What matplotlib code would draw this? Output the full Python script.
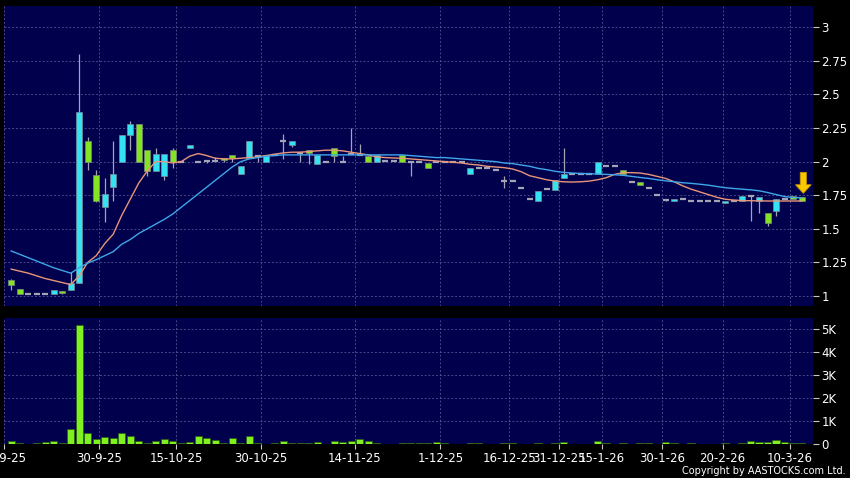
import matplotlib
matplotlib.use('Agg')
import matplotlib.pyplot as plt
import numpy as np

# daily candles, index 0 = first bar on the chart
opens = [1.12, 1.05, 1.015, 1.015, 1.015, 1.017, 1.04, 1.045, 1.10, 2.15,
         1.90, 1.66, 1.81, 2.00, 2.20, 2.28, 2.09, 1.93, 1.89, 2.09,
         2.00, 2.10, 2.00, 2.005, 2.005, 2.03, 2.05, 1.91, 2.03, 2.04,
         2.00, 2.05, 2.15, 2.12, 2.065, 2.085, 1.98, 2.00, 2.10, 2.00,
         2.06, 2.05, 2.04, 2.00, 2.005, 2.005, 2.05, 2.00, 2.00, 1.99,
         2.00, 2.00, 2.00, 1.995, 1.91, 1.95, 1.95, 1.94, 1.855, 1.855,
         1.80, 1.72, 1.71, 1.795, 1.79, 1.88, 1.91, 1.91, 1.91, 1.91,
         1.965, 1.965, 1.94, 1.85, 1.845, 1.80, 1.75, 1.715, 1.705, 1.72,
         1.707, 1.707, 1.707, 1.707, 1.69, 1.707, 1.707, 1.746, 1.707, 1.62,
         1.63, 1.72, 1.746, 1.74]
highs = [1.125, 1.05, 1.015, 1.015, 1.015, 1.042, 1.04, 1.18, 2.80, 2.18,
         1.94, 1.88, 2.15, 2.20, 2.30, 2.28, 2.09, 2.10, 2.06, 2.10,
         2.00, 2.12, 2.00, 2.005, 2.035, 2.03, 2.05, 1.97, 2.15, 2.05,
         2.05, 2.05, 2.205, 2.15, 2.065, 2.085, 2.05, 2.00, 2.10, 2.04,
         2.25, 2.13, 2.04, 2.05, 2.005, 2.005, 2.05, 2.00, 2.00, 1.99,
         2.00, 2.00, 2.00, 1.995, 1.95, 1.95, 1.95, 1.94, 1.89, 1.855,
         1.80, 1.72, 1.78, 1.795, 1.86, 2.10, 1.91, 1.91, 1.91, 2.00,
         1.965, 1.965, 1.94, 1.85, 1.845, 1.80, 1.75, 1.715, 1.72, 1.72,
         1.707, 1.707, 1.707, 1.707, 1.707, 1.707, 1.746, 1.746, 1.74, 1.62,
         1.72, 1.72, 1.746, 1.74]
lows = [1.045, 1.013, 1.015, 1.015, 1.015, 1.017, 1.015, 1.045, 1.10, 1.94,
        1.70, 1.55, 1.71, 2.00, 2.09, 2.00, 1.89, 1.93, 1.86, 1.95,
        2.00, 2.10, 2.00, 1.99, 2.005, 2.00, 1.995, 1.91, 2.03, 2.00,
        2.00, 2.05, 2.02, 2.11, 2.00, 1.98, 1.98, 2.00, 2.00, 2.00,
        2.06, 2.05, 2.00, 2.00, 2.005, 2.005, 2.00, 1.89, 2.00, 1.95,
        2.00, 2.00, 2.00, 1.995, 1.91, 1.95, 1.95, 1.94, 1.80, 1.855,
        1.80, 1.72, 1.71, 1.795, 1.79, 1.88, 1.91, 1.91, 1.91, 1.91,
        1.965, 1.965, 1.905, 1.85, 1.825, 1.80, 1.75, 1.705, 1.705, 1.72,
        1.707, 1.707, 1.707, 1.707, 1.69, 1.707, 1.707, 1.56, 1.615, 1.523,
        1.595, 1.72, 1.72, 1.707]
closes = [1.08, 1.015, 1.015, 1.015, 1.015, 1.042, 1.02, 1.10, 2.37, 2.00,
          1.71, 1.76, 1.91, 2.20, 2.28, 2.00, 1.93, 2.06, 2.06, 2.00,
          2.00, 2.12, 2.00, 2.005, 2.005, 2.01, 2.03, 1.97, 2.15, 2.04,
          2.05, 2.05, 2.15, 2.15, 2.065, 2.065, 2.05, 2.00, 2.04, 2.00,
          2.06, 2.05, 2.00, 2.05, 2.005, 2.005, 2.00, 2.00, 2.00, 1.95,
          2.00, 2.00, 2.00, 1.995, 1.95, 1.95, 1.95, 1.94, 1.855, 1.855,
          1.80, 1.72, 1.78, 1.795, 1.86, 1.91, 1.91, 1.91, 1.91, 2.00,
          1.965, 1.965, 1.905, 1.85, 1.825, 1.80, 1.75, 1.715, 1.72, 1.72,
          1.707, 1.707, 1.707, 1.707, 1.707, 1.707, 1.746, 1.746, 1.74, 1.54,
          1.72, 1.72, 1.72, 1.707]

# volume in thousands of shares
volume_k = [0.15, 0.05, 0.02, 0.03, 0.10, 0.14, 0.06, 0.65, 5.18, 0.50,
            0.21, 0.30, 0.27, 0.47, 0.37, 0.15, 0.04, 0.14, 0.21, 0.15,
            0.06, 0.09, 0.36, 0.27, 0.18, 0.05, 0.27, 0.03, 0.36, 0.06,
            0.02, 0.04, 0.14, 0.06, 0.06, 0.03, 0.09, 0.02, 0.12, 0.09,
            0.12, 0.24, 0.12, 0.04, 0.02, 0.02, 0.06, 0.06, 0.05, 0.06,
            0.10, 0.04, 0.02, 0.02, 0.06, 0.03, 0.02, 0.02, 0.06, 0.03,
            0.02, 0.02, 0.03, 0.02, 0.03, 0.08, 0.02, 0.02, 0.02, 0.12,
            0.03, 0.02, 0.03, 0.02, 0.03, 0.05, 0.02, 0.08, 0.03, 0.02,
            0.05, 0.02, 0.02, 0.02, 0.03, 0.02, 0.03, 0.15, 0.07, 0.07,
            0.17, 0.07, 0.03, 0.05]

# moving averages
ma_short = [1.20, 1.185, 1.17, 1.15, 1.13, 1.115, 1.10, 1.085, 1.15, 1.25,
            1.30, 1.39, 1.46, 1.60, 1.72, 1.84, 1.93, 2.00, 2.00, 1.99,
            2.00, 2.04, 2.06, 2.045, 2.025, 2.02, 2.02, 2.025, 2.03, 2.035,
            2.045, 2.055, 2.065, 2.07, 2.07, 2.075, 2.08, 2.085, 2.085, 2.08,
            2.07, 2.06, 2.05, 2.035, 2.03, 2.027, 2.025, 2.02, 2.015, 2.01,
            2.005, 2.00, 1.995, 1.99, 1.98, 1.975, 1.965, 1.96, 1.955, 1.945,
            1.925, 1.895, 1.88, 1.865, 1.855, 1.85, 1.848, 1.85, 1.855, 1.865,
            1.88, 1.905, 1.918, 1.918, 1.915, 1.905, 1.89, 1.875, 1.85, 1.82,
            1.795, 1.775, 1.755, 1.735, 1.72, 1.714, 1.71, 1.709, 1.708, 1.707,
            1.707, 1.707, 1.707, 1.707]
ma_long = [1.335, 1.31, 1.285, 1.26, 1.235, 1.21, 1.19, 1.17, 1.21, 1.245,
           1.27, 1.30, 1.33, 1.385, 1.42, 1.465, 1.50, 1.535, 1.57, 1.61,
           1.66, 1.71, 1.76, 1.81, 1.86, 1.91, 1.96, 2.00, 2.02, 2.03,
           2.04, 2.045, 2.05, 2.05, 2.05, 2.05, 2.05, 2.05, 2.05, 2.05,
           2.05, 2.05, 2.05, 2.05, 2.05, 2.05, 2.05, 2.045, 2.04, 2.035,
           2.03, 2.03, 2.025, 2.02, 2.015, 2.01, 2.005, 2.00, 1.99, 1.985,
           1.975, 1.965, 1.95, 1.94, 1.928, 1.92, 1.915, 1.912, 1.91, 1.908,
           1.905, 1.902, 1.898, 1.89, 1.882, 1.875, 1.865, 1.857, 1.85, 1.843,
           1.838, 1.832, 1.825, 1.815, 1.806, 1.80, 1.795, 1.79, 1.783, 1.77,
           1.755, 1.74, 1.733, 1.73]

date_pos = [-0.85, 10.3, 19.4, 29.4, 40.4, 50.5, 58.6, 64.5, 69.5, 76.6, 83.7, 91.6]
date_labels = ['15-9-25', '30-9-25', '15-10-25', '30-10-25', '14-11-25', '1-12-25',
               '16-12-25', '31-12-25', '15-1-26', '30-1-26', '20-2-26', '10-3-26']
price_ticks = [1, 1.25, 1.5, 1.75, 2, 2.25, 2.5, 2.75, 3]
vol_ticks = [0, 1, 2, 3, 4, 5]

bg = '#00004c'
up_col = '#33e3f2'
down_col = '#84e424'
flat_col = '#a4a4b4'
grid_kw = dict(color='#5c5c98', linestyle=(0, (2.5, 2.5)), linewidth=0.55)

fig = plt.figure(figsize=(8.5, 4.78), dpi=100, facecolor='black')
ax = fig.add_axes([4/850, 172/478, 809/850, 300/478], facecolor=bg)
axv = fig.add_axes([4/850, 34/478, 809/850, 126/478], facecolor=bg)

x = np.arange(len(closes))
o = np.array(opens); h = np.array(highs); l = np.array(lows); c = np.array(closes)

# wicks
ax.vlines(x, l, h, color=flat_col, linewidth=0.9, zorder=2)
# bodies
for i in x:
    if c[i] > o[i]:
        ax.bar(i, c[i] - o[i], bottom=o[i], width=0.7, color=up_col,
               edgecolor='#7a8a9a', linewidth=0.5, zorder=3)
    elif c[i] < o[i]:
        ax.bar(i, o[i] - c[i], bottom=c[i], width=0.7, color=down_col,
               edgecolor='#7a8a7a', linewidth=0.5, zorder=3)
    else:
        ax.hlines(c[i], i - 0.35, i + 0.35, color=flat_col, linewidth=1.6, zorder=3)

ax.plot(x, ma_short, color='#e8967a', linewidth=1.0, zorder=4)
ax.plot(x, ma_long, color='#3fa6ea', linewidth=1.0, zorder=4)

# yellow marker on the latest bar
ax.arrow(93.2, 1.92, 0, -0.156, width=0.72, head_width=1.85, head_length=0.064,
         length_includes_head=True, facecolor='#f7c800', edgecolor='#c89400',
         linewidth=0.6, zorder=6)

ax.set_xlim(-0.5, 94.34)
ax.set_ylim(0.9256, 3.158)
ax.set_yticks(price_ticks)
ax.set_yticklabels(['%g' % t for t in price_ticks])
ax.set_xticks(date_pos)
ax.tick_params(axis='x', bottom=False, labelbottom=False)

axv.bar(x, volume_k, width=0.86, color='#80f020', edgecolor='#2a5a10',
        linewidth=0.5, zorder=3)
axv.set_xlim(-0.5, 94.34)
axv.set_ylim(0, 5.5)
axv.set_yticks(vol_ticks)
axv.set_yticklabels(['0'] + ['%dK' % v for v in vol_ticks[1:]])
axv.set_xticks(date_pos)
axv.set_xticklabels(date_labels)

for a in (ax, axv):
    a.yaxis.tick_right()
    a.grid(True, **grid_kw)
    a.set_axisbelow(True)
    for s in a.spines.values():
        s.set_visible(False)
    a.tick_params(axis='y', length=4, width=0.8, color='#c8c8c8', pad=2,
                  labelsize=8.5, labelcolor='white')
axv.tick_params(axis='x', length=3.5, width=0.8, color='#c8c8c8', pad=2,
                labelsize=8.5, labelcolor='white')

fig.text(846/850, 1 - 471/478, 'Copyright by AASTOCKS.com Ltd.', color='white',
         fontsize=7, ha='right', va='center')

fig.savefig('out.png', dpi=100, facecolor='black')
